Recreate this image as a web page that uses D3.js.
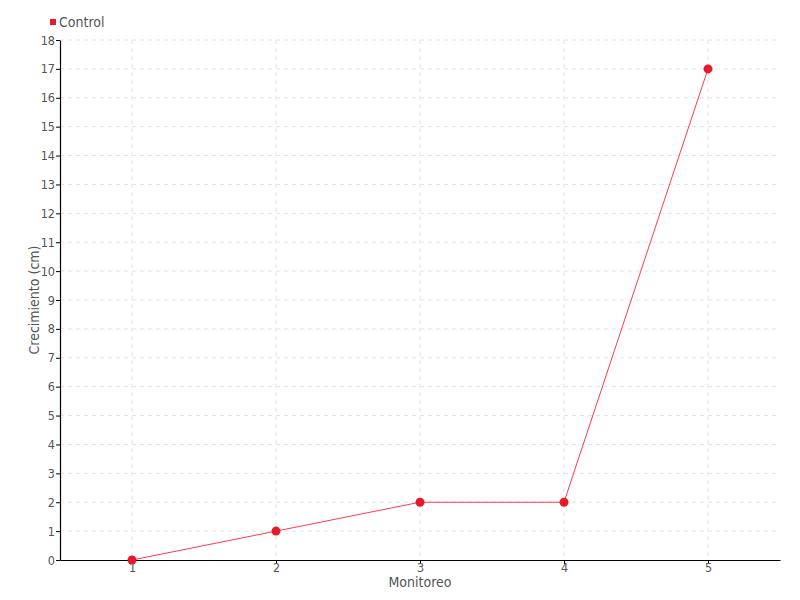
<!DOCTYPE html>
<html><head><meta charset="utf-8">
<script src="https://cdn.jsdelivr.net/npm/d3@7"></script>
<style>
body{margin:0;background:#fff;}
text{font-family:"DejaVu Sans Condensed","Liberation Sans Narrow","Roboto Condensed",sans-serif;}
</style></head>
<body><svg id="c" width="800" height="600"></svg>
<script>
const categories = [1, 2, 3, 4, 5];
const controlValues = [0, 1, 2, 2, 17];
const yTicks = d3.range(0, 19);
const seriesName = "Control";
const xTitle = "Monitoreo";
const yTitle = "Crecimiento (cm)";

const svg = d3.select("#c");
const m = {l:60, r:20, t:40, b:40};
const W = 800, H = 600;
const x = d3.scaleLinear().domain([0.5, 5.5]).range([m.l, W - m.r]);
const y = d3.scaleLinear().domain([0, 18]).range([H - m.b, m.t]);

// grid
const g = svg.append("g");
g.selectAll(".hg").data(yTicks.slice(1)).enter().append("line")
  .attr("x1", m.l).attr("x2", W - m.r).attr("y1", d => y(d)).attr("y2", d => y(d))
  .attr("stroke", "#e2e2e2").attr("stroke-dasharray", "4,4");
g.selectAll(".vg").data(categories).enter().append("line")
  .attr("x1", d => x(d)).attr("x2", d => x(d)).attr("y1", m.t).attr("y2", H - m.b)
  .attr("stroke", "#e2e2e2").attr("stroke-dasharray", "4,4");

// axes
const xa = svg.append("g").attr("transform", `translate(0,${H - m.b})`)
  .call(d3.axisBottom(x).tickValues(categories).tickSize(4).tickSizeOuter(0).tickFormat(d3.format("d")));
const ya = svg.append("g").attr("transform", `translate(${m.l},0)`)
  .call(d3.axisLeft(y).tickValues(yTicks).tickSize(4).tickSizeOuter(0).tickFormat(d3.format("d")));
[xa, ya].forEach(a => {
  a.select(".domain").attr("stroke", "#000").attr("stroke-width", 1.2);
  a.selectAll(".tick line").attr("stroke", "#000");
  a.selectAll("text").attr("fill", "#555").style("font-size", "12.5px");
});
xa.selectAll("text").attr("y", 3).attr("dy", "0.71em");
ya.selectAll("text").attr("x", -5);

// titles
svg.append("text").attr("x", x(3)).attr("y", 587).attr("text-anchor", "middle")
  .attr("fill", "#555").style("font-size", "14px").text(xTitle);
svg.append("text").attr("transform", `translate(39,${y(9)}) rotate(-90)`).attr("text-anchor", "middle")
  .attr("fill", "#555").style("font-size", "14px").text(yTitle);

// line
const data = categories.map((c, i) => ({x: c, y: controlValues[i]}));
svg.append("path").datum(data)
  .attr("d", d3.line().x(d => x(d.x)).y(d => y(d.y)))
  .attr("fill", "none").attr("stroke", "#ff3b4b").attr("stroke-width", 1);
svg.selectAll(".pt").data(data).enter().append("circle")
  .attr("cx", d => x(d.x)).attr("cy", d => y(d.y)).attr("r", 4.5)
  .attr("fill", "#e8192c");

// legend
svg.append("rect").attr("x", 50).attr("y", 19).attr("width", 6).attr("height", 6).attr("fill", "#e8192c");
svg.append("text").attr("x", 59).attr("y", 22).attr("dy", "0.35em")
  .attr("fill", "#555").style("font-size", "14px").text(seriesName);
</script></body></html>
